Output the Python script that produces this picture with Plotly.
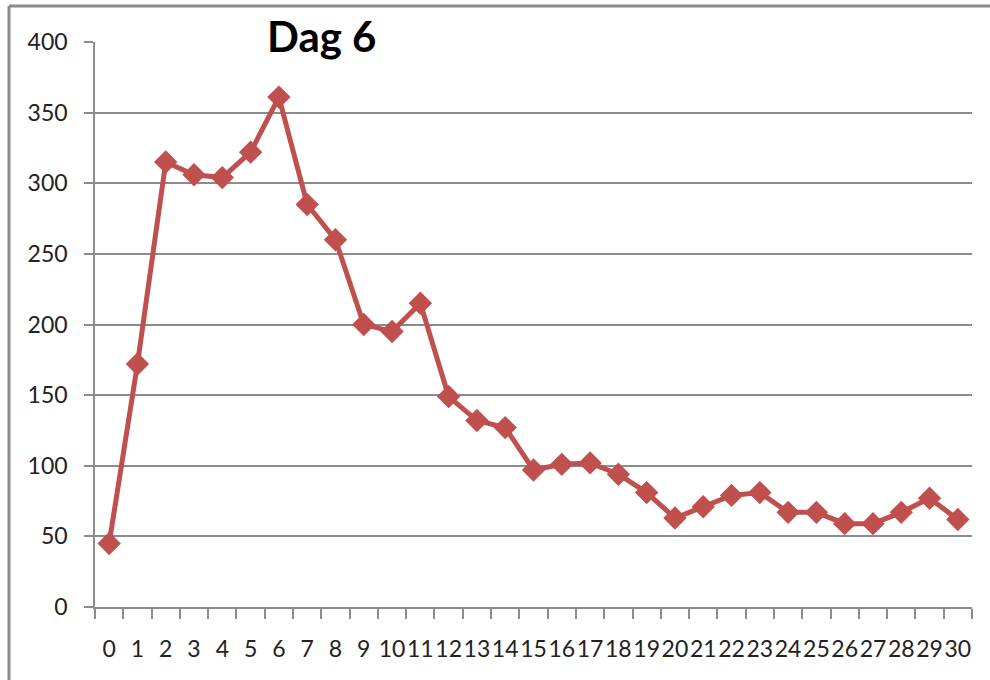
import plotly.graph_objects as go

days = [str(i) for i in range(31)]
values = [45, 172, 315, 306, 304, 322, 361, 285, 260, 200, 195, 215, 149, 132, 127,
          97, 101, 102, 94, 81, 63, 71, 79, 81, 67, 67, 59, 59, 67, 77, 62]
y_ticks = [0, 50, 100, 150, 200, 250, 300, 350, 400]
title_text = "Dag 6"

red = "#C0504D"
grid = "#8C8C8C"
font_family = "Lato, 'Open Sans', sans-serif"

fig = go.Figure()
fig.add_trace(go.Scatter(
    x=days, y=values, mode="lines+markers",
    line=dict(color=red, width=5),
    marker=dict(symbol="diamond", size=18, color=red, line=dict(width=0)),
    showlegend=False,
))

fig.update_layout(
    width=990, height=680,
    margin=dict(l=95, r=18, t=42, b=73),
    paper_bgcolor="white", plot_bgcolor="white",
    font=dict(family=font_family, size=23, color="#222222"),
    xaxis=dict(
        type="category", range=[-0.5, 30.5], tickangle=0,
        showgrid=False, showline=True, linecolor=grid, linewidth=1.5,
        ticks="outside", tickson="boundaries", ticklen=10, tickcolor=grid, tickwidth=1.5,
        ticklabelstandoff=21,
        tickfont=dict(size=23, family=font_family, color="#222222"),
    ),
    yaxis=dict(
        range=[0, 400], tickvals=y_ticks, ticktext=[str(v) for v in y_ticks],
        showgrid=True, gridcolor=grid, gridwidth=1.5,
        showline=True, linecolor=grid, linewidth=1.5,
        ticks="outside", ticklen=9, tickcolor=grid, tickwidth=1.5,
        ticklabelstandoff=12, zeroline=False,
        tickfont=dict(size=23, family=font_family, color="#222222"),
    ),
    annotations=[dict(
        text="<b>" + title_text + "</b>", xref="paper", yref="paper",
        x=(321 - 95) / 877, y=1 + 6 / 565, xanchor="center", yanchor="middle",
        showarrow=False, font=dict(size=42, family=font_family, color="black"),
    )],
    shapes=[
        dict(type="line", xref="paper", yref="paper",
             x0=(9 - 95) / 877, x1=(995 - 95) / 877, y0=(680 - 73 - 6) / 565, y1=(680 - 73 - 6) / 565,
             line=dict(color="#8C8C8C", width=3)),
        dict(type="line", xref="paper", yref="paper",
             x0=(9 - 95) / 877, x1=(9 - 95) / 877, y0=(680 - 73 - 6) / 565, y1=-80 / 565,
             line=dict(color="#8C8C8C", width=3)),
    ],
)

fig.write_html("out.html", config={"displayModeBar": False},
               post_script="document.body.style.margin='0';")
